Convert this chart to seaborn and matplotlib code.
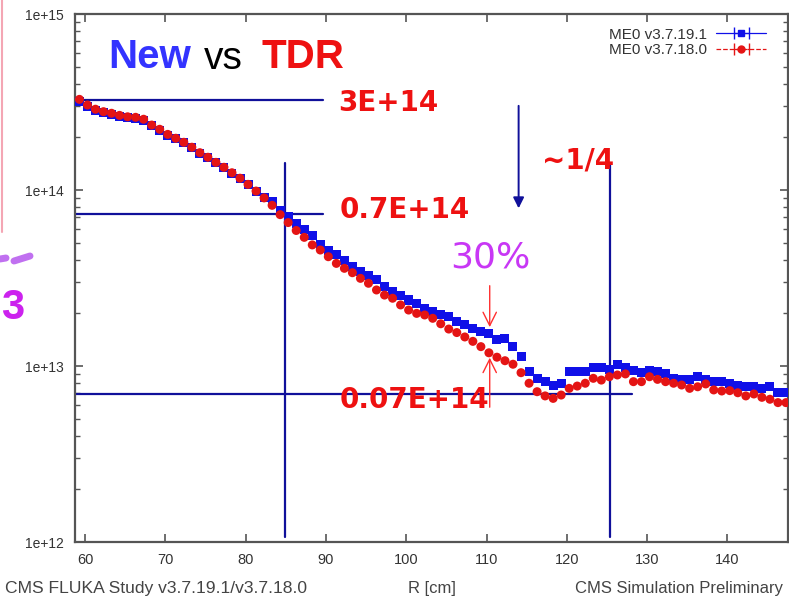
import numpy as np
import pandas as pd
import seaborn as sns
import matplotlib.pyplot as plt
from matplotlib.ticker import FixedLocator, LogLocator, FuncFormatter, NullFormatter
from matplotlib.lines import Line2D

# bin centres in R [cm]
R = np.arange(59.3, 147.35, 1.0)

# log10 of fluence
new_log = [
    14.505, 14.475, 14.452, 14.438, 14.428, 14.417, 14.410, 14.405, 14.395,
    14.365, 14.340, 14.312, 14.290, 14.268, 14.240, 14.210, 14.183, 14.155, 14.127,
    14.096, 14.065, 14.030, 13.993, 13.960, 13.934, 13.886, 13.848, 13.807, 13.773,
    13.744, 13.693, 13.659, 13.631, 13.602, 13.564, 13.536, 13.517, 13.493, 13.451,
    13.422, 13.403, 13.375, 13.356, 13.328, 13.309, 13.295, 13.280, 13.252, 13.233,
    13.214, 13.195, 13.186, 13.148, 13.157, 13.112, 13.053, 12.970, 12.930, 12.911,
    12.892, 12.898, 12.968, 12.968, 12.968, 12.993, 12.993, 12.981, 13.006, 12.993,
    12.973, 12.962, 12.973, 12.968, 12.958, 12.930, 12.924, 12.924, 12.943, 12.924,
    12.911, 12.911, 12.902, 12.892, 12.882, 12.882, 12.873, 12.886, 12.848, 12.848,
]
tdr_log = [
    14.515, 14.483, 14.459, 14.445, 14.436, 14.424, 14.416, 14.413, 14.402,
    14.369, 14.345, 14.316, 14.294, 14.271, 14.243, 14.212, 14.186, 14.157, 14.129,
    14.098, 14.067, 14.032, 13.994, 13.955, 13.913, 13.860, 13.815, 13.770, 13.731,
    13.688, 13.659, 13.621, 13.583, 13.555, 13.530, 13.498, 13.470, 13.432, 13.403,
    13.385, 13.347, 13.318, 13.299, 13.290, 13.271, 13.240, 13.210, 13.190, 13.165,
    13.140, 13.110, 13.075, 13.050, 13.030, 13.010, 12.962, 12.902, 12.854, 12.830,
    12.816, 12.835, 12.873, 12.886, 12.902, 12.930, 12.920, 12.939, 12.949, 12.955,
    12.911, 12.911, 12.939, 12.924, 12.911, 12.902, 12.892, 12.873, 12.882, 12.898,
    12.864, 12.858, 12.860, 12.848, 12.830, 12.841, 12.822, 12.811, 12.792, 12.792,
]
labels = ["ME0 v3.7.19.1", "ME0 v3.7.18.0"]
y_ticks = [1e12, 1e13, 1e14, 1e15]
x_ticks = [60, 70, 80, 90, 100, 110, 120, 130, 140]

BLUE = "#1010e8"
RED = "#e41414"
NAVY = "#10109a"
GREY = "#555555"

df = pd.DataFrame({
    "R": np.concatenate([R, R]),
    "flux": 10 ** np.concatenate([new_log, tdr_log]),
    "version": [labels[0]] * len(R) + [labels[1]] * len(R),
})

W, H = 789, 598
fig = plt.figure(figsize=(W / 100, H / 100), dpi=100)
sns.set_style("ticks")
plt.rcParams["font.family"] = ["Liberation Sans", "DejaVu Sans"]

def fx(px):
    return px / W

def fy(py):
    return 1 - py / H

ax = fig.add_axes([fx(75), fy(542), fx(788) - fx(75), fy(14) - fy(542)])

sns.scatterplot(data=df, x="R", y="flux", hue="version", style="version",
                palette={labels[0]: BLUE, labels[1]: RED},
                markers={labels[0]: "s", labels[1]: "o"},
                s=42, linewidth=0, legend=False, ax=ax, zorder=3)

ax.set_yscale("log")
ax.set_xlim(58.75, 147.55)
ax.set_ylim(1e12, 1e15)
ax.xaxis.set_major_locator(FixedLocator(x_ticks))
ax.yaxis.set_major_locator(FixedLocator(y_ticks))
ax.yaxis.set_minor_locator(LogLocator(base=10, subs=np.arange(2, 10)))
ax.yaxis.set_minor_formatter(NullFormatter())
ax.yaxis.set_major_formatter(FuncFormatter(lambda v, p: "1e+%d" % round(np.log10(v))))
ax.set_xlabel("")
ax.set_ylabel("")
for sp in ax.spines.values():
    sp.set_visible(True)
    sp.set_color(GREY)
    sp.set_linewidth(1.6)
ax.tick_params(which="both", direction="in", top=True, right=True, color=GREY,
               labelcolor="#333333", labelsize=10, pad=8)
ax.tick_params(axis="x", labelsize=10.5)
ax.tick_params(which="major", length=6, width=1.2)
ax.tick_params(which="minor", length=3.5, width=1.0)

# legend with error-bar style handles
h_new = ax.errorbar([np.nan], [np.nan], xerr=[1], fmt="s-", color=BLUE, ms=5,
                    lw=0.9, capsize=4, elinewidth=0.9)
h_tdr = ax.errorbar([np.nan], [np.nan], xerr=[1], fmt="o--", color=RED, ms=5,
                    lw=0.9, capsize=4, elinewidth=0.9)
h_tdr[2][0].set_linestyle("--")
leg = fig.legend([h_new, h_tdr], labels, loc="upper right",
                 bbox_to_anchor=(fx(774), fy(20)), frameon=False, fontsize=11,
                 markerfirst=False, handlelength=3.3, handletextpad=0.6,
                 labelspacing=0.1, borderpad=0)
for t in leg.get_texts():
    t.set_color("#333333")

# guide lines
ax.plot([58.75, 89.6], [10 ** 14.51] * 2, color=NAVY, lw=1.6, zorder=2)
ax.plot([58.75, 89.6], [10 ** 13.864] * 2, color=NAVY, lw=1.6, zorder=2)
ax.plot([58.75, 128.1], [10 ** 12.84] * 2, color=NAVY, lw=1.6, zorder=2)
for xv in [84.9, 125.4]:
    ax.plot([xv, xv], [10 ** 14.153, 10 ** 12.028], color=NAVY, lw=1.6, zorder=2)
ax.annotate("", xy=(114.0, 10 ** 13.88), xytext=(114.0, 10 ** 14.494),
            arrowprops=dict(arrowstyle="-|>", color=NAVY, lw=1.4,
                            mutation_scale=16))

# 30% arrows
ax.annotate("", xy=(110.4, 10 ** 13.205), xytext=(110.4, 10 ** 13.472),
            arrowprops=dict(arrowstyle="->", color="#ff3030", lw=1.0,
                            mutation_scale=24))
ax.annotate("", xy=(110.4, 10 ** 13.063), xytext=(110.4, 10 ** 12.75),
            arrowprops=dict(arrowstyle="->", color="#ff3030", lw=1.0,
                            mutation_scale=24))

ann = dict(color="#ee1111", fontsize=20, fontweight="bold",
           family="DejaVu Sans", va="center", ha="left", zorder=5)
ax.text(91.5, 10 ** 14.494, "3E+14", **ann)
ax.text(91.7, 10 ** 13.886, "0.7E+14", **ann)
ax.text(91.7, 10 ** 12.807, "0.07E+14", **ann)
ax.text(116.9, 10 ** 14.17, "~1/4", **ann)
ax.text(105.5, 10 ** 13.614, "30%", color="#c837f5", fontsize=26,
        family="DejaVu Sans", va="center", ha="left")

# slide title overlay
fig.text(fx(108), fy(57), "New", color="#3333ff", fontsize=29,
         fontweight="bold", va="center", ha="left")
fig.text(fx(204), fy(59), "vs", color="black", fontsize=28,
         va="center", ha="left")
fig.text(fx(261), fy(57), "TDR", color="#ee1111", fontsize=29,
         fontweight="bold", va="center", ha="left")

# bits of the slide around the plot
fig.add_artist(Line2D([fx(2), fx(2)], [fy(0), fy(232)], color="#f4a6b4", lw=1.5))
fig.add_artist(Line2D([fx(0), fx(6)], [fy(259), fy(258)], color="#c070f0", lw=5))
fig.add_artist(Line2D([fx(14), fx(30)], [fy(261), fy(256)], color="#c070f0", lw=5))
fig.text(fx(24), fy(308), "3", color="#cc22ee", fontsize=30, fontweight="bold",
         va="center", ha="right")

# footer
foot = dict(color="#444444", va="center")
fig.text(fx(5), fy(589), "CMS FLUKA Study v3.7.19.1/v3.7.18.0", ha="left",
         fontsize=12.6, **foot)
fig.text(fx(432), fy(588), "R [cm]", ha="center", fontsize=12, **foot)
fig.text(fx(783), fy(589), "CMS Simulation Preliminary", ha="right",
         fontsize=12, **foot)

fig.savefig("out.png", dpi=100)
